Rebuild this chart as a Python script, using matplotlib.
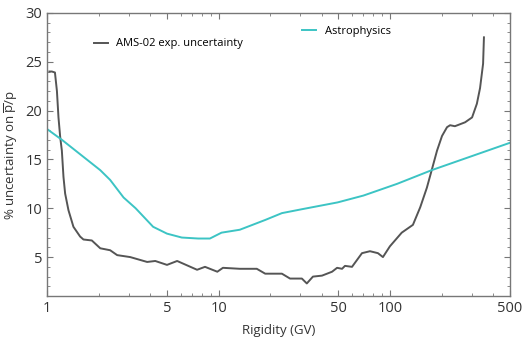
import matplotlib
matplotlib.use("Agg")
import matplotlib.pyplot as plt
from matplotlib.ticker import FixedLocator, NullFormatter, MultipleLocator, LogLocator

plt.rcParams['font.family'] = ['Open Sans', 'DejaVu Sans']

# AMS-02 experimental uncertainty (rigidity in GV, % uncertainty)
ams_rig = [1.03, 1.065, 1.11, 1.14, 1.164, 1.191, 1.218, 1.245, 1.273, 1.331, 1.423,
           1.557, 1.628, 1.822, 2.04, 2.33, 2.56, 3.05, 3.83, 4.27, 5.0, 5.73, 7.49,
           8.33, 9.83, 10.6, 13.3, 16.7, 18.7, 23.4, 26.1, 30.6, 32.7, 35.5, 40.1,
           45.9, 49.1, 52.5, 54.6, 60.0, 68.6, 76.4, 85.0, 90.9, 99.8, 117, 136, 150,
           164, 175, 188, 201, 215, 224, 239, 274, 301, 321, 335, 349, 353]
ams_unc = [24.0, 24.0, 23.9, 22.0, 19.3, 17.3, 15.9, 13.2, 11.5, 9.8, 8.1,
           7.1, 6.8, 6.7, 5.9, 5.7, 5.2, 5.0, 4.5, 4.6, 4.2, 4.6, 3.7,
           4.0, 3.5, 3.9, 3.8, 3.8, 3.3, 3.3, 2.8, 2.8, 2.3, 3.0, 3.1,
           3.5, 3.9, 3.8, 4.1, 4.0, 5.4, 5.6, 5.4, 5.0, 6.1, 7.5, 8.3, 10.1,
           12.1, 13.9, 15.9, 17.4, 18.3, 18.5, 18.4, 18.8, 19.3, 20.7, 22.3, 24.8, 27.5]

# Astrophysics uncertainty
astro_rig = [1.0, 1.22, 2.04, 2.33, 2.79, 3.28, 4.15, 5.0, 6.1, 7.6, 8.9, 10.4,
             13.3, 18.7, 23.4, 30.6, 49.5, 70, 110, 175, 500]
astro_unc = [18.1, 17.0, 13.9, 12.9, 11.1, 10.0, 8.1, 7.4, 7.0, 6.9, 6.9, 7.5,
             7.8, 8.8, 9.5, 9.9, 10.6, 11.3, 12.5, 13.9, 16.7]

xticks = [1, 5, 10, 50, 100, 500]
xticklabels = ['1', '5', '10', '50', '100', '500']
yticks = [5, 10, 15, 20, 25, 30]

grey = '#555555'
cyan = '#3cc4c4'
axcol = '#777777'

fig = plt.figure(figsize=(5.3, 3.4), dpi=100)
ax = fig.add_axes([0.089, 0.129, 0.873, 0.833])

l1, = ax.plot(ams_rig, ams_unc, color=grey, lw=1.4)
l2, = ax.plot(astro_rig, astro_unc, color=cyan, lw=1.4)

ax.set_xscale('log')
ax.set_xlim(1, 500)
ax.set_ylim(1, 30)
ax.xaxis.set_major_locator(FixedLocator(xticks))
ax.set_xticklabels(xticklabels)
ax.xaxis.set_minor_locator(LogLocator(base=10, subs=range(2, 10)))
ax.xaxis.set_minor_formatter(NullFormatter())
ax.yaxis.set_major_locator(FixedLocator(yticks))
ax.yaxis.set_minor_locator(MultipleLocator(1))

ax.tick_params(which='both', direction='in', top=True, right=True, colors=axcol,
               labelcolor='#333333', labelsize=10.5)
ax.tick_params(which='major', length=4)
ax.tick_params(which='minor', length=2)
for s in ax.spines.values():
    s.set_color(axcol)
    s.set_linewidth(1.0)

ax.set_xlabel('Rigidity (GV)', fontsize=9.5, color='#333333', labelpad=6)
ax.set_ylabel(r'% uncertainty on $\overline{\mathregular{p}}$/p', fontsize=9.5, color='#333333')

leg1 = ax.legend([l1], ['AMS-02 exp. uncertainty'], loc='upper left', frameon=False,
                 fontsize=8, bbox_to_anchor=(0.08, 0.945), handlelength=1.2)
ax.add_artist(leg1)
ax.legend([l2], ['Astrophysics'], loc='upper left', frameon=False,
          fontsize=8, bbox_to_anchor=(0.53, 0.99), handlelength=1.2)

fig.savefig('out.png', dpi=100)
